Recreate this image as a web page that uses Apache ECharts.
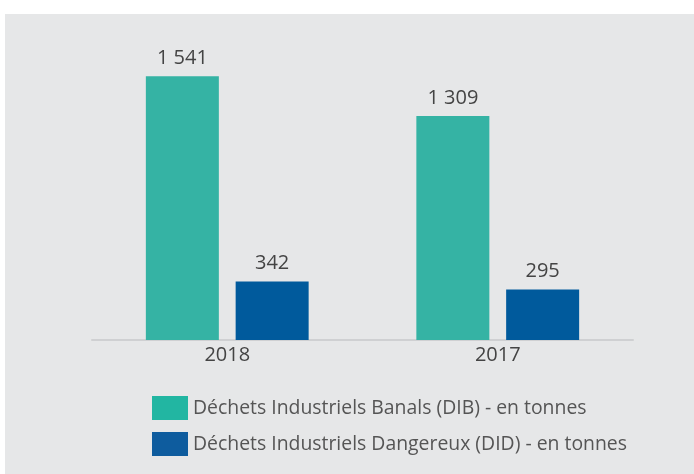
<!DOCTYPE html>
<html lang="fr">
<head>
<meta charset="UTF-8">
<title>Déchets industriels</title>
<script src="https://cdn.jsdelivr.net/npm/echarts@6/dist/echarts.min.js"></script>
<style>
  body { margin: 0; background: #fff; }
  #chart { position: absolute; left: 5px; top: 14px; width: 689px; height: 460px; }
</style>
</head>
<body>
<div id="chart"></div>
<script>
// données
var annees = ['2018', '2017'];
var dib = [1541, 1309];
var did = [342, 295];
var noms = ['Déchets Industriels Banals (DIB) - en tonnes', 'Déchets Industriels Dangereux (DID) - en tonnes'];

var police = '"Open Sans", sans-serif';

function fmt(p) {
  return String(p.value).replace(/\B(?=(\d{3})+(?!\d))/g, ' ');
}

var myChart = echarts.init(document.getElementById('chart'));
myChart.setOption({
  backgroundColor: '#e6e7e8',
  animation: false,
  grid: { left: 87, right: 61, top: 18, bottom: 134 },
  legend: {
    orient: 'vertical',
    left: 142,
    top: 377,
    itemWidth: 36,
    itemHeight: 24,
    itemGap: 12,
    textStyle: { fontFamily: police, fontSize: 19.4, color: '#555' },
    data: [
      { name: noms[0], icon: 'rect', itemStyle: { color: '#22b6a2' } },
      { name: noms[1], icon: 'rect', itemStyle: { color: '#0e5c9e' } }
    ]
  },
  xAxis: {
    type: 'category',
    data: annees,
    axisLine: { lineStyle: { color: '#cfd0d2', width: 2 } },
    axisTick: { show: false },
    axisLabel: { fontFamily: police, fontSize: 20, color: '#444', margin: 5 }
  },
  yAxis: {
    type: 'value',
    min: 0,
    max: 1800,
    show: false
  },
  series: [
    {
      name: noms[0],
      type: 'bar',
      data: dib,
      barWidth: 73,
      barGap: '23%',
      itemStyle: { color: '#35b3a4' },
      label: { show: true, position: 'top', distance: 8, formatter: fmt, fontFamily: police, fontSize: 20, color: '#444' }
    },
    {
      name: noms[1],
      type: 'bar',
      data: did,
      barWidth: 73,
      itemStyle: { color: '#005a9c' },
      label: { show: true, position: 'top', distance: 8, formatter: fmt, fontFamily: police, fontSize: 20, color: '#444' }
    }
  ]
});
</script>
</body>
</html>
